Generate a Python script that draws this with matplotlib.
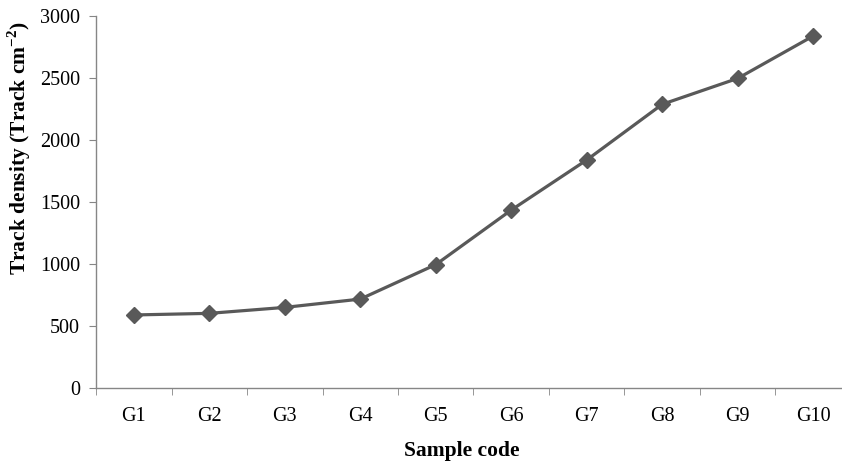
import numpy as np
import matplotlib.pyplot as plt

# values
sample_codes = ["G1", "G2", "G3", "G4", "G5", "G6", "G7", "G8", "G9", "G10"]
track_density = [589, 602, 650, 717, 995, 1435, 1839, 2288, 2497, 2839]
y_ticks = [0, 500, 1000, 1500, 2000, 2500, 3000]

plt.rcParams['font.family'] = ['Liberation Serif', 'DejaVu Serif']

line_color = "#595959"
axis_color = "#868686"

fig = plt.figure(figsize=(8.42, 4.62), dpi=100)
ax = fig.add_axes([96 / 842, 74 / 462, 755 / 842, 372 / 462])

x = np.arange(len(sample_codes))
ax.plot(x, track_density, color=line_color, linewidth=2.3,
        marker="D", markersize=8.5, markerfacecolor=line_color,
        markeredgecolor=line_color, clip_on=False)

ax.set_xlim(-0.5, len(sample_codes) - 0.5)
ax.set_ylim(0, 3000)
ax.set_yticks(y_ticks)
ax.set_xticks(x)
ax.set_xticklabels(sample_codes)
ax.set_xticks(np.arange(-0.5, len(sample_codes), 1.0), minor=True)

for side in ["top", "right"]:
    ax.spines[side].set_visible(False)
for side in ["left", "bottom"]:
    ax.spines[side].set_color(axis_color)
    ax.spines[side].set_linewidth(1.0)

ax.tick_params(axis="x", which="major", length=0, pad=14, labelsize=14.5)
ax.tick_params(axis="x", which="minor", length=5, color=axis_color,
               direction="out")
ax.tick_params(axis="y", length=5, color=axis_color, direction="out",
               pad=6.5, labelsize=14.5)

ax.set_ylabel("Track density (Track cm$^{\\mathregular{-2}}$)",
              fontsize=15.5, fontweight="bold")
ax.yaxis.set_label_coords(-0.084, 0.645)
ax.set_xlabel("Sample code", fontsize=15.5, fontweight="bold")
ax.xaxis.set_label_coords(0.485, -0.143)

fig.savefig("out.png", dpi=100)
